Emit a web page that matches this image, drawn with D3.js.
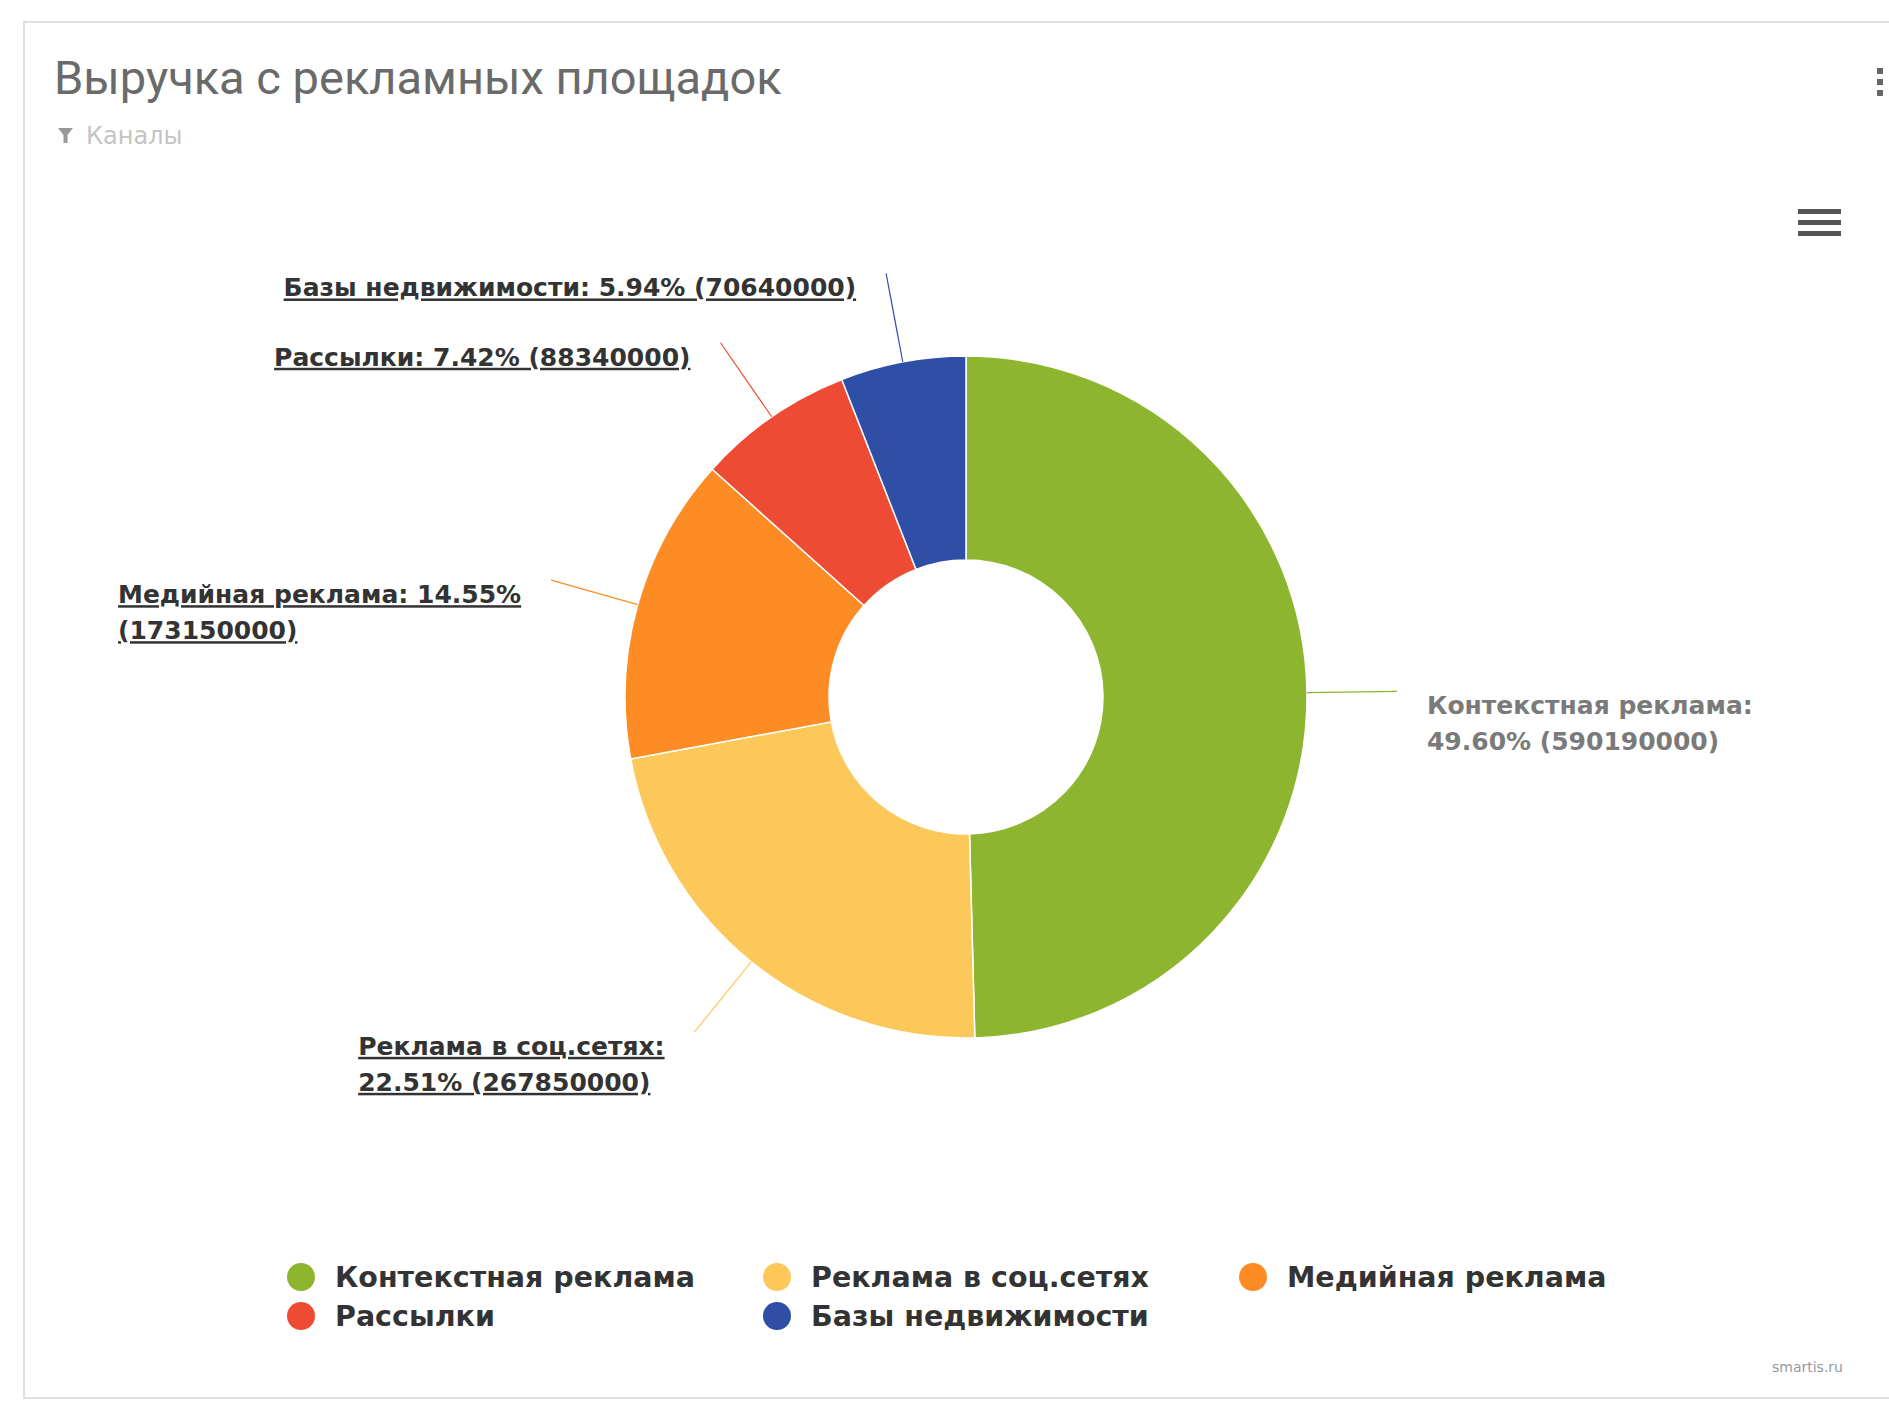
<!DOCTYPE html>
<html>
<head>
<meta charset="utf-8">
<script src="https://cdn.jsdelivr.net/npm/d3@7"></script>
<style>
body { margin: 0; background: #fff; }
</style>
</head>
<body>
<div id="chart"></div>
<script>
// chart data
var categories = ["Контекстная реклама", "Реклама в соц.сетях", "Медийная реклама", "Рассылки", "Базы недвижимости"];
var amounts = [590190000, 267850000, 173150000, 88340000, 70640000];
var shares = ["49.60%", "22.51%", "14.55%", "7.42%", "5.94%"];
var colors = ["#8db530", "#fdc85a", "#fd8c25", "#ee4b35", "#2f4ea6"];
var drilldown = [false, true, true, true, true];

var W = 1889, H = 1402;
var cx = 966, cy = 697, R = 341, innerR = 137;
var labelFont = "'DejaVu Sans', Verdana, sans-serif";
var labelSize = "25px";

var svg = d3.select("#chart").append("svg").attr("width", W).attr("height", H);

// card
svg.append("rect").attr("x", 24).attr("y", 22).attr("width", W + 10).attr("height", 1376)
    .attr("fill", "#fff").attr("stroke", "#e0e0e0").attr("stroke-width", 2);

svg.append("text").attr("x", 54).attr("y", 94)
    .style("font-family", "Roboto, sans-serif").style("font-size", "47px").style("fill", "#6a6a6a")
    .text("Выручка с рекламных площадок");

// filter icon + subtitle
svg.append("path").attr("d", "M58,128 L73,128 L67.5,135 L67.5,143 L63.5,143 L63.5,135 Z").attr("fill", "#999");
svg.append("text").attr("x", 86).attr("y", 144)
    .style("font-family", labelFont).style("font-size", "24px").style("fill", "#c4c4c4")
    .text("Каналы");

// kebab + burger menu
[0, 1, 2].forEach(function (i) {
    svg.append("rect").attr("x", 1877).attr("y", 68 + i * 11).attr("width", 6).attr("height", 6).attr("fill", "#666");
    svg.append("rect").attr("x", 1798).attr("y", 209 + i * 11).attr("width", 43).attr("height", 5).attr("fill", "#555");
});

var pie = d3.pie().sort(null).value(function (d) { return d; })(amounts);
var arc = d3.arc().innerRadius(innerR).outerRadius(R);
var g = svg.append("g").attr("transform", "translate(" + cx + "," + cy + ")");

g.selectAll("path.slice").data(pie).enter().append("path").attr("class", "slice")
    .attr("d", arc)
    .attr("fill", function (d, i) { return colors[i]; })
    .attr("stroke", "#fff").attr("stroke-width", 1.5);

// data labels with connectors
var dist = 90, gap = 30, lineH = 36, leftLimit = 100, rightLimit = 1800, wrapW = 412;
var labels = svg.append("g");

function measure(str) {
    var t = labels.append("text").style("font-family", labelFont).style("font-size", labelSize)
        .style("font-weight", "bold").text(str);
    var w = t.node().getComputedTextLength();
    t.remove();
    return w;
}

function wrap(str, maxW) {
    var words = str.split(" "), lines = [], cur = "";
    words.forEach(function (w) {
        var test = cur ? cur + " " + w : w;
        if (cur && measure(test) > maxW) { lines.push(cur); cur = w; } else cur = test;
    });
    lines.push(cur);
    return lines;
}

pie.forEach(function (d, i) {
    var mid = (d.startAngle + d.endAngle) / 2;
    var sx = Math.sin(mid), sy = -Math.cos(mid);
    var ax = cx + (R + dist) * sx, ay = cy + (R + dist) * sy;
    var ex = cx + R * sx, ey = cy + R * sy;
    var right = sx >= 0;

    labels.append("line").attr("x1", ax).attr("y1", ay).attr("x2", ex).attr("y2", ey)
        .attr("stroke", colors[i]).attr("stroke-width", 1.2);

    var full = categories[i] + ": " + shares[i] + " (" + amounts[i] + ")";
    var avail = right ? rightLimit - ax - gap : ax - gap - leftLimit;
    var lines = measure(full) <= avail ? [full] : wrap(full, Math.min(avail, wrapW));
    var boxW = d3.max(lines, measure);
    var x0 = right ? ax + gap : ax - gap - boxW;

    var t = labels.append("text")
        .style("font-family", labelFont).style("font-size", labelSize).style("font-weight", "bold")
        .style("fill", drilldown[i] ? "#333" : "#7a7a7a")
        .style("text-decoration", drilldown[i] ? "underline" : "none");
    lines.forEach(function (l, k) {
        t.append("tspan").attr("x", x0).attr("y", ay + 23 + k * lineH).text(l);
    });
});

// legend, 3 per row
var legend = svg.append("g").attr("transform", "translate(287,1277)");
categories.forEach(function (c, i) {
    var col = i % 3, row = Math.floor(i / 3);
    var it = legend.append("g").attr("transform", "translate(" + col * 476 + "," + row * 39 + ")");
    it.append("circle").attr("cx", 14).attr("cy", 0).attr("r", 14).attr("fill", colors[i]);
    it.append("text").attr("x", 48).attr("y", 10)
        .style("font-family", labelFont).style("font-size", "28.5px").style("font-weight", "bold").style("fill", "#333")
        .text(c);
});

svg.append("text").attr("x", 1843).attr("y", 1372).attr("text-anchor", "end")
    .style("font-family", labelFont).style("font-size", "14px").style("fill", "#999")
    .text("smartis.ru");
</script>
</body>
</html>
